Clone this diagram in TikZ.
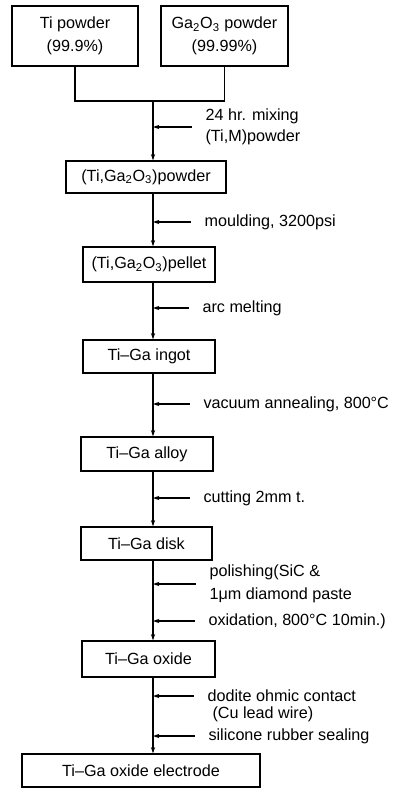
\documentclass[tikz,border=0pt]{standalone}
\usepackage{fontspec}
\setmainfont{Liberation Sans}
\usetikzlibrary{arrows.meta}

\begin{document}
\begin{tikzpicture}[x=0.025cm,y=-0.025cm,line width=0.8pt,
    every node/.style={font=\fontsize{11.5}{14.5}\selectfont},
    stepbox/.style={draw,align=center,inner sep=0pt,minimum height=0.825cm},
    note/.style={anchor=west,align=left,inner sep=0pt},
    tip/.style={-{Stealth[length=4.5pt,width=3pt]}}]
        \useasboundingbox (0,0) rectangle (395,789);
        % vychozi prasky
        \node[stepbox,minimum width=3.15cm,minimum height=1.5cm] (ti) at (75,36)
            {Ti powder\\[2pt](99.9\%)};
        \node[stepbox,minimum width=3.175cm,minimum height=1.5cm] (ga) at (224.5,36)
            {Ga\textsubscript{2}O\textsubscript{3} powder\\[2pt](99.99\%)};
        \coordinate (join) at (0,101);
        \coordinate (spine) at (153,0);

        % mezikroky
        \node[stepbox,minimum width=4cm,minimum height=0.8cm] (powder) at (146,177)
            {(Ti,Ga\textsubscript{2}O\textsubscript{3})powder};
        \node[stepbox,minimum width=3.3cm,minimum height=0.875cm] (pellet) at (149,264.5)
            {(Ti,Ga\textsubscript{2}O\textsubscript{3})pellet};
        \node[stepbox,minimum width=3.3cm] (ingot) at (149,356.5) {Ti--Ga ingot};
        \node[stepbox,minimum width=3.3cm,minimum height=0.85cm] (alloy) at (147,454) {Ti--Ga alloy};
        \node[stepbox,minimum width=3.275cm] (disk) at (146.5,543.5) {Ti--Ga disk};
        \node[stepbox,minimum width=3.325cm,minimum height=0.9cm] (oxide) at (148.5,659) {Ti--Ga oxide};
        \node[stepbox,minimum width=5.95cm] (electrode) at (141,770.5) {Ti--Ga oxide electrode};

        % popisky operaci
        \node[note] (mix) at (205,127) {24 hr. mixing\\(Ti,M)powder};
        \node[note] (mould) at (204,222) {moulding, 3200psi};
        \node[note] (arc) at (202,308) {arc melting};
        \node[note] (anneal) at (203,404) {vacuum annealing, 800°C};
        \node[note] (cut) at (203,498) {cutting 2mm t.};
        \node[note] (polish) at (209,584) {polishing(SiC \&\\[2pt]1μm diamond paste};
        \node[note] (oxid) at (208,621) {oxidation, 800°C 10min.)};
        \node[note] (ohmic) at (207,696) {dodite ohmic contact};
        \node[note] (wire) at (212,714) {(Cu lead wire)};
        \node[note] (seal) at (208,736) {silicone rubber sealing};

        % spojeni
        \draw (ti.south) -- (ti.south |- join) -- (ga.south |- join) -- (ga.south);
        \draw[tip] (spine |- join) -- (spine |- powder.north);
        \draw[tip] (powder.south -| spine) -- (pellet.north -| spine);
        \draw[tip] (pellet.south -| spine) -- (ingot.north -| spine);
        \draw[tip] (ingot.south -| spine) -- (alloy.north -| spine);
        \draw[tip] (alloy.south -| spine) -- (disk.north -| spine);
        \draw[tip] (disk.south -| spine) -- (oxide.north -| spine);
        \draw[tip] (oxide.south -| spine) -- (electrode.north -| spine);

        % bocni sipky
        \foreach \n in {mix,mould,arc,anneal,cut,polish,oxid,ohmic,seal}
            \draw[tip] ([xshift=-0.33cm]\n.west) -- (\n.west -| spine);
\end{tikzpicture}
\end{document}
